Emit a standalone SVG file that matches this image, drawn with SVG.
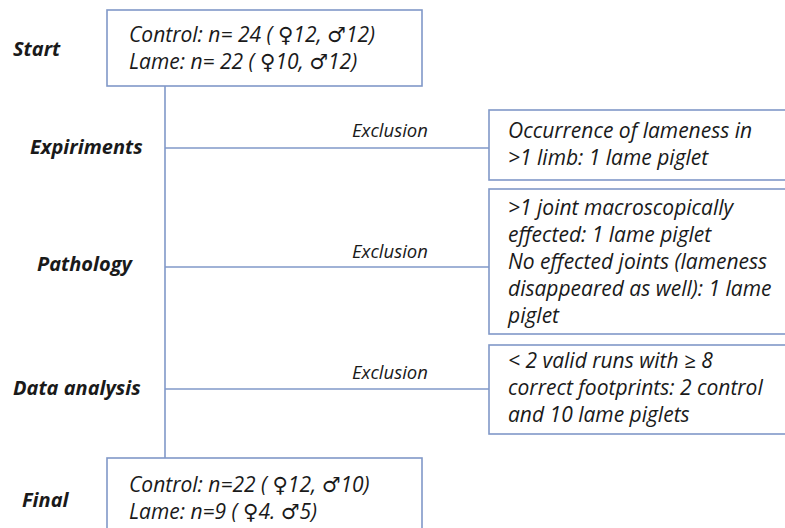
<svg xmlns="http://www.w3.org/2000/svg" width="785" height="528" viewBox="0 0 785 528">
<style>
.bg{fill:#ffffff}
.box{fill:#ffffff;stroke:#8098c8;stroke-width:1.6}
.ln{stroke:#8098c8;stroke-width:1.6;fill:none}
.lab{font-family:"Open Sans","Noto Sans","DejaVu Sans",sans-serif;font-style:italic;font-weight:bold;font-size:20px;fill:#1a1a1a}
.t{font-family:"Open Sans","Noto Sans","DejaVu Sans",sans-serif;font-style:italic;font-size:21px;fill:#1a1a1a}
.ex{font-family:"Open Sans","Noto Sans","DejaVu Sans",sans-serif;font-style:italic;font-size:18.5px;fill:#1a1a1a}
.sym{font-family:"DejaVu Sans",sans-serif;font-style:normal}
</style>
<rect class="bg" x="0" y="0" width="785" height="528"/>
<g id="connectors">
<line class="ln" x1="165" y1="86" x2="165" y2="458"/>
<line class="ln" x1="165" y1="148" x2="489" y2="148"/>
<line class="ln" x1="165" y1="267" x2="489" y2="267"/>
<line class="ln" x1="165" y1="389" x2="489" y2="389"/>
<text class="ex" x="352" y="137">Exclusion</text>
<text class="ex" x="352" y="258">Exclusion</text>
<text class="ex" x="352" y="379">Exclusion</text>
</g>
<g id="labels">
<text class="lab" x="13" y="56">Start</text>
<text class="lab" x="30" y="154">Expiriments</text>
<text class="lab" x="37" y="271">Pathology</text>
<text class="lab" x="13" y="395">Data analysis</text>
<text class="lab" x="22" y="507">Final</text>
</g>
<g id="start">
<rect class="box" x="107" y="10" width="315" height="76"/>
<text class="t" x="129" y="42">Control: n= 24 ( <tspan class="sym">♀</tspan>12, <tspan class="sym">♂</tspan>12)</text>
<text class="t" x="129" y="69">Lame: n= 22 ( <tspan class="sym">♀</tspan>10, <tspan class="sym">♂</tspan>12)</text>
</g>
<g id="exclusion1">
<rect class="box" x="489" y="110" width="310" height="70"/>
<text class="t" x="508" y="138">Occurrence of lameness in</text>
<text class="t" x="508" y="165">&gt;1 limb: 1 lame piglet</text>
</g>
<g id="exclusion2">
<rect class="box" x="489" y="189" width="310" height="145"/>
<text class="t" x="508" y="215">&gt;1 joint macroscopically</text>
<text class="t" x="508" y="242">effected: 1 lame piglet</text>
<text class="t" x="508" y="269">No effected joints (lameness</text>
<text class="t" x="508" y="296">disappeared as well): 1 lame</text>
<text class="t" x="508" y="323">piglet</text>
</g>
<g id="exclusion3">
<rect class="box" x="489" y="345" width="310" height="89"/>
<text class="t" x="508" y="368">&lt; 2 valid runs with ≥ 8</text>
<text class="t" x="508" y="395">correct footprints: 2 control</text>
<text class="t" x="508" y="422">and 10 lame piglets</text>
</g>
<g id="final">
<rect class="box" x="107" y="458" width="315" height="80"/>
<text class="t" x="129" y="492">Control: n=22 ( <tspan class="sym">♀</tspan>12, <tspan class="sym">♂</tspan>10)</text>
<text class="t" x="129" y="519">Lame: n=9 ( <tspan class="sym">♀</tspan>4. <tspan class="sym">♂</tspan>5)</text>
</g>
</svg>
